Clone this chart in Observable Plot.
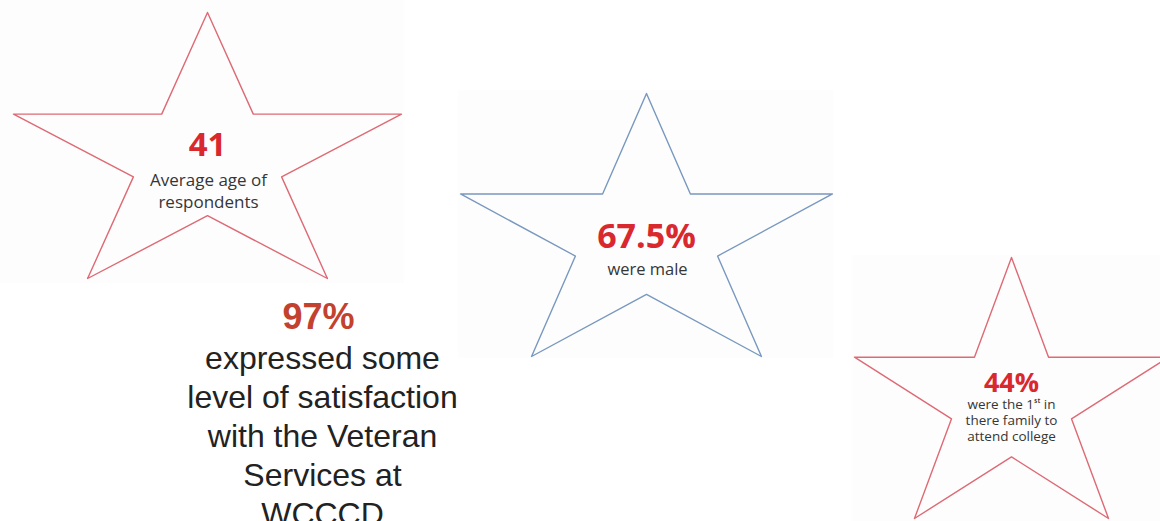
<!DOCTYPE html>
<html>
<head>
<meta charset="utf-8">
<script src="https://cdn.jsdelivr.net/npm/d3@7"></script>
<script src="https://cdn.jsdelivr.net/npm/@observablehq/plot@0.6"></script>
<style>
  html, body { margin: 0; padding: 0; background: #ffffff; }
  #chart svg { display: block; }
</style>
</head>
<body>
<div id="chart"></div>
<script>
// ---------- DATA ----------
const starValues = ["41", "67.5%", "44%"];
const starCaptions = [
  ["Average age of", "respondents"],
  ["were male"],
  ["were the 1\u02E2\u1D57 in", "there family to", "attend college"]
];
const highlightValue = "97%";
const highlightLines = ["expressed some", "level of satisfaction", "with the Veteran", "Services at", "WCCCD"];

// ---------- LAYOUT & STYLE ----------
const W = 1160, H = 521;
const starBoxes = [
  {x0: 13,  x1: 401,  y0: 12,  y1: 278, stroke: "#dd6a74"},
  {x0: 460, x1: 832,  y0: 93,  y1: 356, stroke: "#7898bf"},
  {x0: 854, x1: 1168, y0: 257, y1: 518, stroke: "#dd6a74"}
];
const imageBoxes = [
  {x1: 0,   x2: 404,  y1: 0,   y2: 283},
  {x1: 458, x2: 833,  y1: 90,  y2: 358},
  {x1: 852, x2: 1160, y1: 255, y2: 521}
];
// unit five-point star (PowerPoint-style), normalised to its bounding box
const unitStar = [[0.5,0],[0.618,0.382],[1,0.382],[0.691,0.618],[0.809,1],[0.5,0.764],[0.191,1],[0.309,0.618],[0,0.382],[0.382,0.382]];
const valueStyle = [
  {cx: 207,  base: 155, size: 33},
  {cx: 646,  base: 247, size: 34},
  {cx: 1011, base: 391, size: 27}
];
const captionStyle = [
  {cx: 208,  base: 185, size: 17,   gap: 22},
  {cx: 647,  base: 274, size: 16.5, gap: 20},
  {cx: 1011, base: 408, size: 13.5, gap: 16.3}
];
const hlValueStyle = {cx: 318, base: 328, size: 36};
const hlLineStyle = {cx: 322, base: 368, size: 32, gap: 39.2};

// ---------- DERIVED TABLES ----------
const starPts = starBoxes.flatMap((b, i) => unitStar.map(([u, v]) => ({
  star: i, px: b.x0 + u * (b.x1 - b.x0), py: b.y0 + v * (b.y1 - b.y0), stroke: b.stroke
})));
const mid = (base, size) => base - 0.32 * size; // middle line-anchor offset

const valueRows = starValues.map((t, i) => ({t, ...valueStyle[i]}));
const captionRows = starCaptions.flatMap((lines, i) => lines.map((t, j) => ({
  t, star: i, cx: captionStyle[i].cx, base: captionStyle[i].base + j * captionStyle[i].gap
})));
const hlRows = highlightLines.map((t, j) => ({t, cx: hlLineStyle.cx, base: hlLineStyle.base + j * hlLineStyle.gap}));

const starFont = "'Open Sans', Lato, 'DejaVu Sans', sans-serif";
const paraFont = "'Liberation Sans', Arial, sans-serif";

const marks = [
  Plot.rect(imageBoxes, {x1: "x1", x2: "x2", y1: "y1", y2: "y2", fill: "#fdfdfd"}),
  Plot.line(starPts, {x: "px", y: "py", z: "star", stroke: d => d.stroke, strokeWidth: 1.4, curve: "linear-closed"}),
  ...valueRows.map(r => Plot.text([r], {
    x: "cx", y: d => mid(d.base, d.size), text: "t", fontSize: r.size, fontWeight: "bold",
    fontFamily: starFont, fill: "#d9282e", textAnchor: "middle"
  })),
  ...captionStyle.map((s, i) => Plot.text(captionRows.filter(r => r.star === i), {
    x: "cx", y: d => mid(d.base, s.size), text: "t", fontSize: s.size,
    fontFamily: starFont, fill: "#363636", textAnchor: "middle"
  })),
  Plot.text([{t: highlightValue, ...hlValueStyle}], {
    x: "cx", y: d => mid(d.base, d.size), text: "t", fontSize: hlValueStyle.size, fontWeight: "bold",
    fontFamily: paraFont, fill: "#c2412f", textAnchor: "middle"
  }),
  Plot.text(hlRows, {
    x: "cx", y: d => mid(d.base, hlLineStyle.size), text: "t", fontSize: hlLineStyle.size,
    fontFamily: paraFont, fill: "#222222", textAnchor: "middle"
  })
];

const chart = Plot.plot({
  width: W, height: H,
  margin: 0,
  x: {domain: [0, W], range: [0, W], axis: null},
  y: {domain: [0, H], range: [0, H], axis: null},
  style: {background: "#ffffff", overflow: "hidden"},
  marks
});
document.getElementById("chart").appendChild(chart);
</script>
</body>
</html>
